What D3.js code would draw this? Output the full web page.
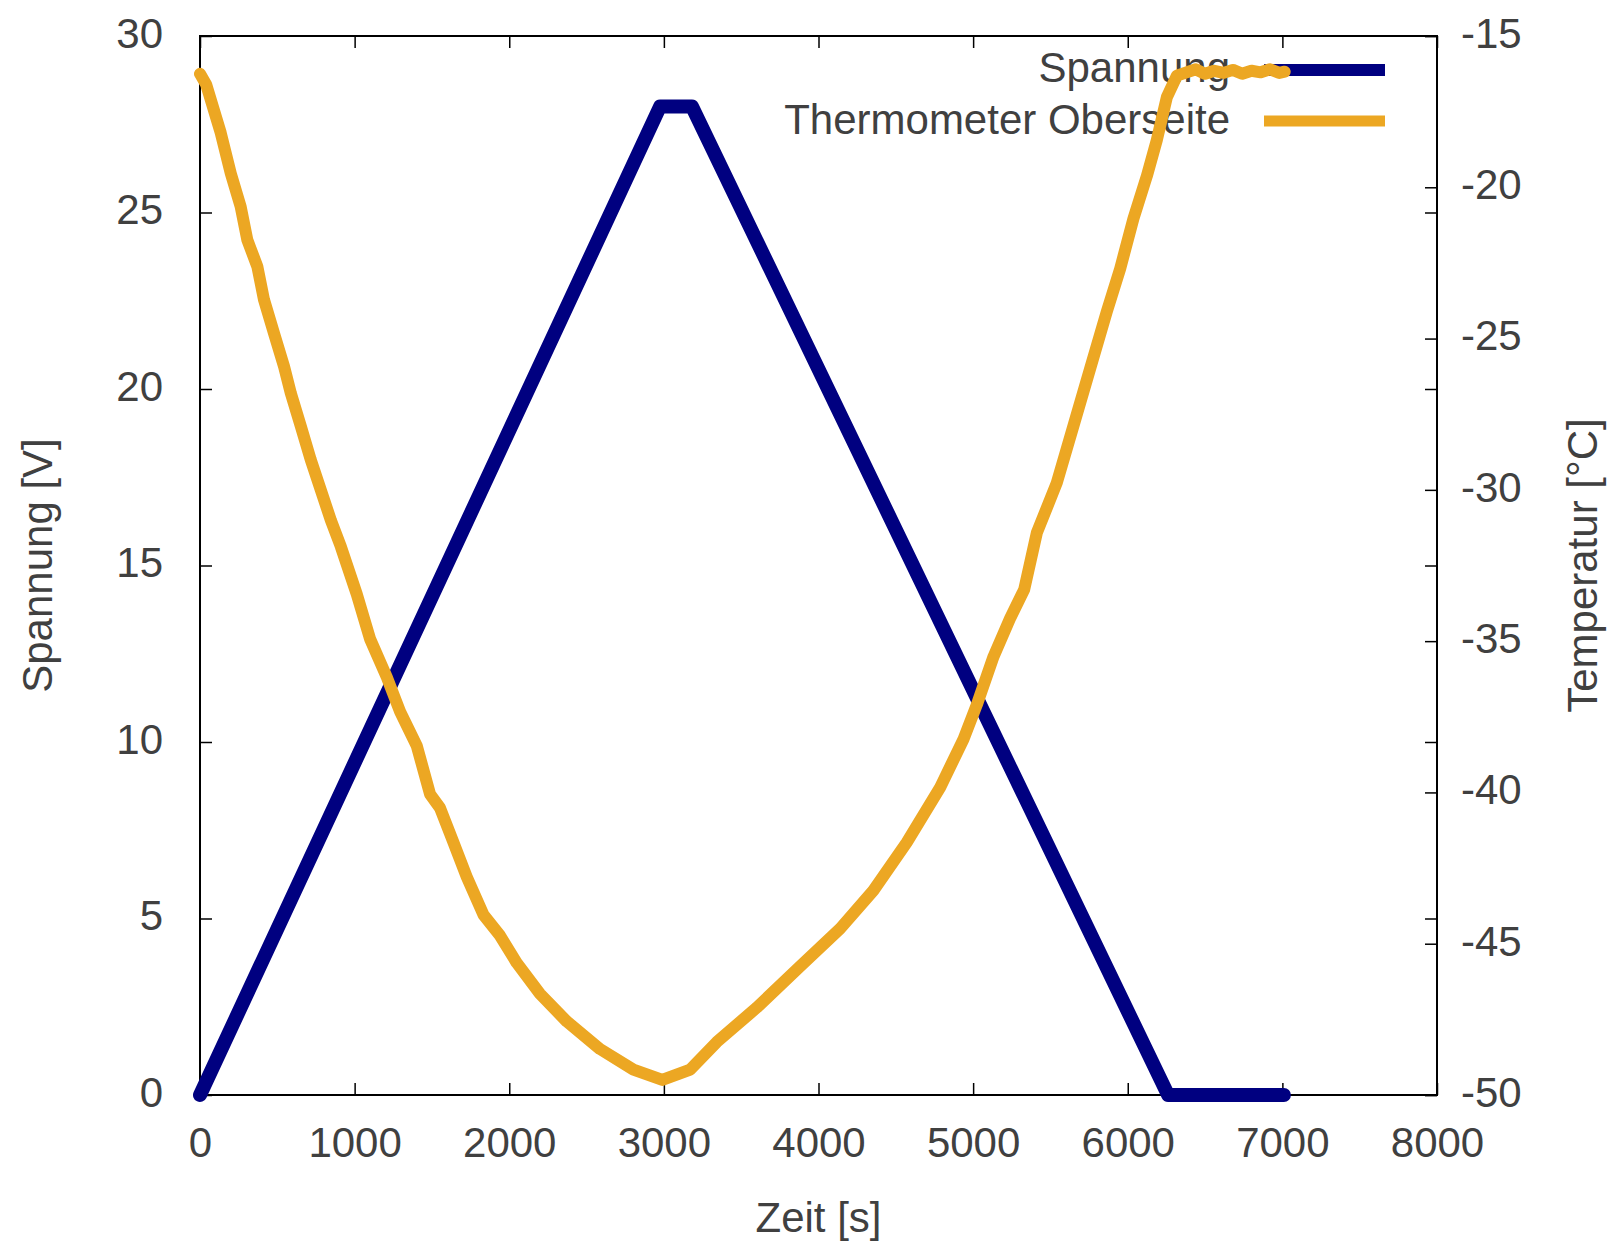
<html>
  <head>
    <script src="https://d3js.org/d3.v7.min.js"></script>
    <style>
      body { margin: 0; background: #fff; }
      text { font-family: "Liberation Sans", Arial, sans-serif; fill: #404040; }
    </style>
  </head>
  <body>
<div id="chart"></div>
<script>
// Spannung (voltage) series
var zeitSpannung = [0, 2975, 3182, 6261, 7010];
var spannung     = [0, 28,   28,   0,    0];

// Thermometer Oberseite (temperature) series
var zeitTemp = [0, 40, 134, 199, 263, 306, 371, 414, 479, 544, 587, 652, 716, 781, 846, 911,
  1014, 1100, 1208, 1294, 1402, 1488, 1552, 1639, 1725, 1833, 1940, 2048, 2199, 2372, 2587, 2803,
  2990, 3170, 3342, 3601, 3881, 4140, 4355, 4571, 4787, 4938, 5024, 5132, 5239, 5330, 5412,
  5541, 5649, 5757, 5865, 5951, 6037, 6124, 6188, 6253, 6318, 6380, 6440, 6500, 6560, 6620,
  6680, 6740, 6800, 6860, 6920, 6980, 7015];
var temp = [-16.25, -16.6, -18.2, -19.54, -20.64, -21.74, -22.62, -23.72, -24.83, -25.93, -26.8,
  -27.9, -29.0, -30.0, -31.0, -31.88, -33.45, -34.93, -36.19, -37.33, -38.46, -40.06, -40.51,
  -41.65, -42.79, -44.04, -44.73, -45.63, -46.66, -47.57, -48.48, -49.16, -49.5, -49.16, -48.25,
  -47.11, -45.75, -44.5, -43.24, -41.65, -39.83, -38.24, -37.1, -35.51, -34.25, -33.3, -31.42,
  -29.77, -27.88, -25.99, -24.1, -22.69, -21.03, -19.62, -18.44, -17.02, -16.31, -16.2, -16.1,
  -16.25, -16.15, -16.22, -16.12, -16.25, -16.15, -16.2, -16.1, -16.22, -16.18];

// tick values
var xTicks  = [0, 1000, 2000, 3000, 4000, 5000, 6000, 7000, 8000];
var yTicks  = [0, 5, 10, 15, 20, 25, 30];
var y2Ticks = [-50, -45, -40, -35, -30, -25, -20, -15];

var W = 1614, H = 1245;
var pLeft = 200, pRight = 1437, pTop = 36, pBottom = 1095;

var svg = d3.select("#chart").append("svg")
  .attr("width", W).attr("height", H);

var x = d3.scaleLinear().domain([0, 8000]).range([pLeft, pRight]);
var y = d3.scaleLinear().domain([0, 30]).range([pBottom, pTop]);
var y2 = d3.scaleLinear().domain([-50, -15]).range([pBottom, pTop]);

// axes (ticks point inwards like gnuplot)
function styleAxis(g) {
  g.select(".domain").remove();
  g.selectAll(".tick line").attr("stroke", "#000").attr("stroke-width", 1.5);
  g.selectAll(".tick text").style("font-size", "42px").attr("fill", "#404040");
}
var fmt = function(d) { return String(d); };

svg.append("g").attr("transform", "translate(0," + pBottom + ")")
  .call(d3.axisBottom(x).tickValues(xTicks).tickSizeInner(-12).tickSizeOuter(0).tickPadding(32).tickFormat(fmt))
  .call(styleAxis);
svg.append("g").attr("transform", "translate(0," + pTop + ")")
  .call(d3.axisTop(x).tickValues(xTicks).tickSizeInner(-12).tickSizeOuter(0).tickFormat(""))
  .call(styleAxis);
svg.append("g").attr("transform", "translate(" + pLeft + ",0)")
  .call(d3.axisLeft(y).tickValues(yTicks).tickSizeInner(-12).tickSizeOuter(0).tickPadding(37).tickFormat(fmt))
  .call(styleAxis)
  .selectAll(".tick text").attr("dy", "0.27em");
svg.append("g").attr("transform", "translate(" + pRight + ",0)")
  .call(d3.axisRight(y).tickValues(yTicks).tickSizeInner(-12).tickSizeOuter(0).tickFormat(""))
  .call(styleAxis);
svg.append("g").attr("transform", "translate(" + pRight + ",0)")
  .call(d3.axisRight(y2).tickValues(y2Ticks).tickSizeInner(-12).tickSizeOuter(0).tickPadding(24).tickFormat(fmt))
  .call(styleAxis)
  .selectAll(".tick text").attr("dy", "0.27em");

// border
svg.append("rect")
  .attr("x", pLeft).attr("y", pTop)
  .attr("width", pRight - pLeft).attr("height", pBottom - pTop)
  .attr("fill", "none").attr("stroke", "#000").attr("stroke-width", 2);

// axis titles
svg.append("text")
  .attr("x", (pLeft + pRight) / 2).attr("y", 1232)
  .attr("text-anchor", "middle").style("font-size", "42px")
  .text("Zeit [s]");
svg.append("text")
  .attr("transform", "translate(52," + (pTop + pBottom) / 2 + ") rotate(-90)")
  .attr("text-anchor", "middle").style("font-size", "42px")
  .text("Spannung [V]");
svg.append("text")
  .attr("transform", "translate(1597," + (pTop + pBottom) / 2 + ") rotate(-90)")
  .attr("text-anchor", "middle").style("font-size", "42px")
  .text("Temperatur [°C]");

var navy = "#000080", gold = "#eca723";

var lineV = d3.line()
  .x(function(d, i) { return x(zeitSpannung[i]); })
  .y(function(d) { return y(d); });
var lineT = d3.line()
  .x(function(d, i) { return x(zeitTemp[i]); })
  .y(function(d) { return y2(d); });

// legend + series 1
svg.append("text").attr("x", 1230).attr("y", 82)
  .attr("text-anchor", "end").style("font-size", "42px").text("Spannung");
svg.append("line").attr("x1", 1264).attr("x2", 1385).attr("y1", 70).attr("y2", 70)
  .attr("stroke", navy).attr("stroke-width", 12);
svg.append("path").datum(spannung)
  .attr("d", lineV).attr("fill", "none")
  .attr("stroke", navy).attr("stroke-width", 14)
  .attr("stroke-linejoin", "round").attr("stroke-linecap", "round");

// legend + series 2
svg.append("text").attr("x", 1230).attr("y", 134)
  .attr("text-anchor", "end").style("font-size", "42px").text("Thermometer Oberseite");
svg.append("line").attr("x1", 1264).attr("x2", 1385).attr("y1", 121).attr("y2", 121)
  .attr("stroke", gold).attr("stroke-width", 11);
svg.append("path").datum(temp)
  .attr("d", lineT).attr("fill", "none")
  .attr("stroke", gold).attr("stroke-width", 12)
  .attr("stroke-linejoin", "round").attr("stroke-linecap", "round");
</script>
  </body>
</html>
